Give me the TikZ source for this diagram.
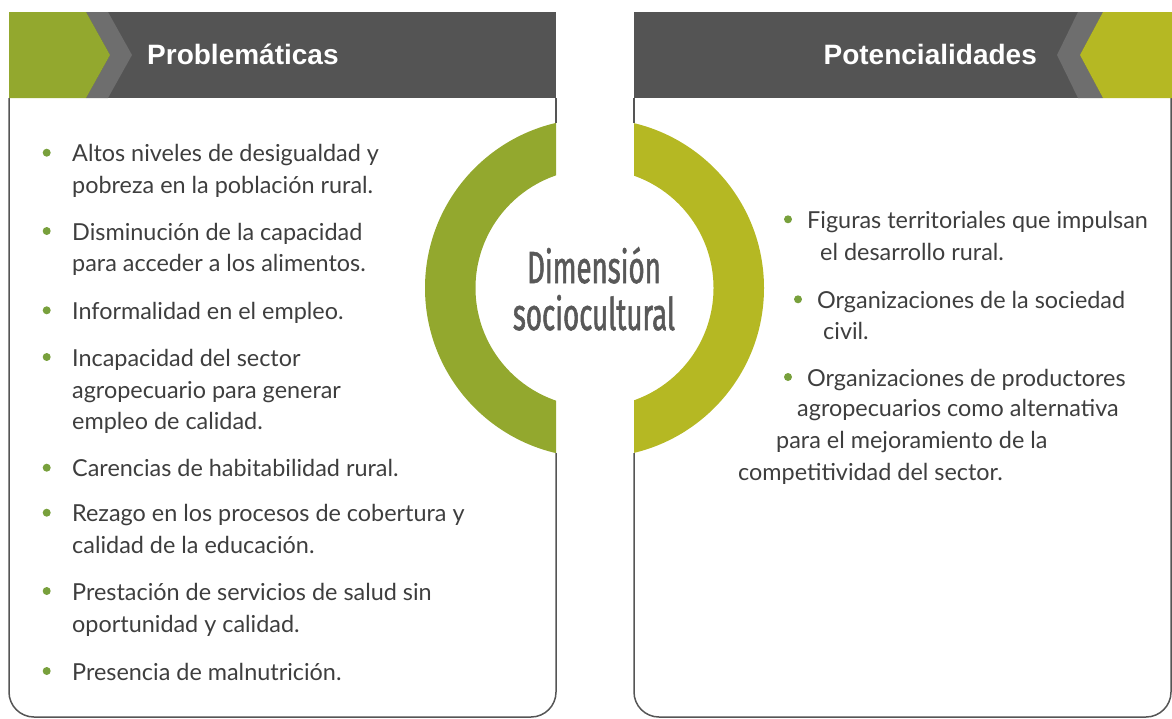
\documentclass[tikz,border=0pt]{standalone}
\usepackage{fontspec}
\usepackage{xcolor}
\usepackage{tikz}

\newfontfamily\bodyfont{Lato}
\newfontfamily\headfont{Liberation Sans}
\newfontfamily\ringfont[FakeStretch=0.615, FakeBold=1.2]{Fira Sans}

\definecolor{ringgreen}{RGB}{147,168,46}
\definecolor{ringolive}{RGB}{181,184,35}
\definecolor{headdark}{RGB}{84,84,84}
\definecolor{headgray}{RGB}{110,110,110}
\definecolor{boxgray}{RGB}{85,85,85}
\definecolor{dotgreen}{RGB}{120,160,60}
\definecolor{bodygray}{RGB}{62,62,62}
\definecolor{ringtext}{RGB}{88,88,88}

\tikzset{
  boxline/.style={draw=boxgray, line width=1.5pt, rounded corners=25pt},
  item/.style={anchor=base west, inner sep=0pt, text=bodygray,
    font=\bodyfont\fontsize{23.4}{28}\selectfont},
  headtitle/.style={anchor=base west, inner sep=0pt, text=white,
    font=\headfont\bfseries\fontsize{28}{32}\selectfont},
}

\begin{document}
\begin{tikzpicture}[x=1pt, y=-1pt]
      \useasboundingbox (0, 0) rectangle (1172, 718);
      % panels (broken where the ring sits)
      \draw[boxline] (556, 123) -- (556, 98);
      \draw[boxline] (556, 453) -- (556, 717) -- (9, 717) -- (9, 98);
      \draw[boxline] (634, 123) -- (634, 98);
      \draw[boxline] (634, 453) -- (634, 717) -- (1171, 717) -- (1171, 98);
      % left header
      \fill[headdark] (9, 12) rectangle (556, 98);
      \fill[headgray] (86, 12) -- (108, 12) -- (132, 55) -- (108, 98) -- (86, 98) -- (110, 55) -- cycle;
      \fill[ringgreen] (9, 12) -- (86, 12) -- (110, 55) -- (86, 98) -- (9, 98) -- cycle;
      \node[headtitle] (probl) at (147, 64.5) {Problemáticas};
      % right header
      \fill[headdark] (634, 12) rectangle (1172, 98);
      \fill[headgray] (1078, 12) -- (1103, 12) -- (1080, 55) -- (1103, 98) -- (1078, 98) -- (1057, 55) -- cycle;
      \fill[ringolive] (1103, 12) -- (1172, 12) -- (1172, 98) -- (1103, 98) -- (1080, 55) -- cycle;
      \node[headtitle, anchor=base east] (poten) at (1037, 64.5) {Potencialidades};
      % the two halves of the ring
      \begin{scope}
        \clip (0, 0) rectangle (556, 718);
        \fill[ringgreen, even odd rule] (594.5, 288) circle (169.5pt) (594.5, 288) circle (119pt);
      \end{scope}
      \begin{scope}
        \clip (634, 0) rectangle (1172, 718);
        \fill[ringolive, even odd rule] (594.5, 288) circle (169.5pt) (594.5, 288) circle (119pt);
      \end{scope}
      \node[anchor=base, inner sep=0pt, text=ringtext, font=\ringfont\fontsize{45}{47}\selectfont] (dim) at (594, 283) {Dimensión};
      \node[anchor=base, inner sep=0pt, text=ringtext, font=\ringfont\fontsize{45}{47}\selectfont] (socio) at (594, 330) {sociocultural};
      % problematicas
      \fill[dotgreen] (46.7, 152.7) circle (4pt);
      \node[item] (p1a) at (72, 161.7) {Altos niveles de desigualdad y};
      \node[item] (p1b) at (72, 193.3) {pobreza en la población rural.};
      \fill[dotgreen] (46.7, 231) circle (4pt);
      \node[item] (p2a) at (72, 240) {Disminución de la capacidad};
      \node[item] (p2b) at (72, 271.7) {para acceder a los alimentos.};
      \fill[dotgreen] (46.7, 310.3) circle (4pt);
      \node[item] (p3) at (72, 319.3) {Informalidad en el empleo.};
      \fill[dotgreen] (46.7, 357) circle (4pt);
      \node[item] (p4a) at (72, 366) {Incapacidad del sector};
      \node[item] (p4b) at (72, 398.3) {agropecuario para generar};
      \node[item] (p4c) at (72, 429.3) {empleo de calidad.};
      \fill[dotgreen] (46.7, 467.7) circle (4pt);
      \node[item] (p5) at (72, 476.7) {Carencias de habitabilidad rural.};
      \fill[dotgreen] (46.7, 512.7) circle (4pt);
      \node[item] (p6a) at (72, 521.7) {Rezago en los procesos de cobertura y};
      \node[item] (p6b) at (72, 553.3) {calidad de la educación.};
      \fill[dotgreen] (46.7, 591) circle (4pt);
      \node[item] (p7a) at (72, 600) {Prestación de servicios de salud sin};
      \node[item] (p7b) at (72, 632) {oportunidad y calidad.};
      \fill[dotgreen] (46.7, 671) circle (4pt);
      \node[item] (p8) at (72, 680) {Presencia de malnutrición.};
      % potencialidades
      \fill[dotgreen] (788, 219.3) circle (4pt);
      \node[item] (q1a) at (807, 228.3) {Figuras territoriales que impulsan};
      \node[item] (q1b) at (820, 260) {el desarrollo rural.};
      \fill[dotgreen] (798, 299.3) circle (4pt);
      \node[item] (q2a) at (817, 308.3) {Organizaciones de la sociedad};
      \node[item] (q2b) at (823, 339.3) {civil.};
      \fill[dotgreen] (788, 377) circle (4pt);
      \node[item] (q3a) at (807, 386) {Organizaciones de productores};
      \node[item] (q3b) at (797, 416.7) {agropecuarios como alternativa};
      \node[item] (q3c) at (776, 448.3) {para el mejoramiento de la};
      \node[item] (q3d) at (738, 480) {competitividad del sector.};
    \end{tikzpicture}
\end{document}
